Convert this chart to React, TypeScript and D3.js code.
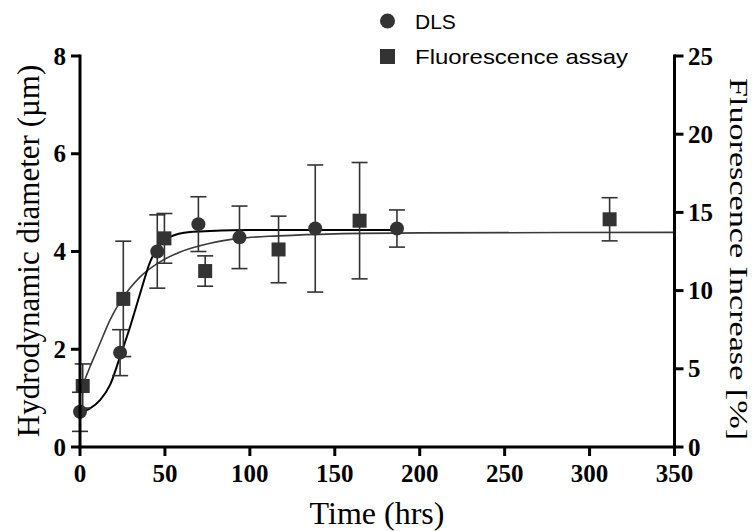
import React from "react";
import * as d3 from "d3";

// ---- data ----
const dlsTime = [0, 23.6, 45.5, 69.7, 93.9, 138.5, 186.6];
const dlsDiameter = [0.72, 1.93, 4.0, 4.56, 4.29, 4.47, 4.47];
const dlsError = [0.4, 0.47, 0.75, 0.56, 0.64, 1.3, 0.38];

const fluorTime = [1.6, 25.5, 49.7, 73.7, 116.9, 164.6, 311.8];
const fluorIncrease = [3.9, 9.47, 13.34, 11.25, 12.63, 14.47, 14.56];
const fluorError = [1.41, 3.69, 1.59, 0.97, 2.13, 3.72, 1.38];

// fitted curves
const dlsFitTime = [0, 5.9, 11.8, 17.7, 23.6, 29.5, 35.4, 41.3, 47.1, 53, 64.8, 76.6, 100, 140, 186.6];
const dlsFitValue = [0.7, 0.79, 0.96, 1.27, 1.85, 2.46, 3.14, 3.79, 4.13, 4.3, 4.4, 4.42, 4.44, 4.44, 4.44];
const fluorFitTime = [1.6, 5.9, 11.8, 17.7, 23.6, 29.5, 35.4, 47.1, 59, 76.6, 94, 117, 150, 200, 350];
const fluorFitValue = [3.97, 5.13, 6.63, 8.13, 9.28, 10.16, 10.88, 11.84, 12.47, 13.03, 13.34, 13.5, 13.63, 13.69, 13.72];

const xTicks = [0, 50, 100, 150, 200, 250, 300, 350];
const leftTicks = [0, 2, 4, 6, 8];
const rightTicks = [0, 5, 10, 15, 20, 25];

const legendLabels = ["DLS", "Fluorescence assay"];

const W = 756;
const H = 531;
const MARK = "#333333";

export default function App() {
  const x = d3.scaleLinear().domain([0, 350]).range([80, 674.5]);
  const yL = d3.scaleLinear().domain([0, 8]).range([447, 56]);
  const yR = d3.scaleLinear().domain([0, 25]).range([447, 56]);

  const dlsLine = d3
    .line<number>()
    .x((_, i) => x(dlsFitTime[i]))
    .y((d) => yL(d))
    .curve(d3.curveMonotoneX);
  const fluorLine = d3
    .line<number>()
    .x((_, i) => x(fluorFitTime[i]))
    .y((d) => yR(d))
    .curve(d3.curveMonotoneX);

  const serif = "'Liberation Serif', 'Times New Roman', serif";
  const sans = "'Liberation Sans', Arial, sans-serif";
  const cap = 8;

  return (
    <svg
      width={W}
      height={H}
      style={{ position: "absolute", left: 0, top: 0, background: "#fff" }}
    >
      <rect x={0} y={0} width={W} height={H} fill="#fff" />

      {/* fit curves */}
      <path d={fluorLine(fluorFitValue) || ""} fill="none" stroke="#3a3a3a" strokeWidth={1.6} />
      <path d={dlsLine(dlsFitValue) || ""} fill="none" stroke="#000" strokeWidth={2} />

      {/* error bars */}
      {dlsTime.map((t, i) => {
        const cx = x(t);
        const top = yL(dlsDiameter[i] + dlsError[i]);
        const bot = yL(dlsDiameter[i] - dlsError[i]);
        return (
          <g key={"de" + i} stroke={MARK} strokeWidth={1.6}>
            <line x1={cx} x2={cx} y1={top} y2={bot} />
            <line x1={cx - cap} x2={cx + cap} y1={top} y2={top} />
            <line x1={cx - cap} x2={cx + cap} y1={bot} y2={bot} />
          </g>
        );
      })}
      {fluorTime.map((t, i) => {
        const cx = x(t);
        const top = yR(fluorIncrease[i] + fluorError[i]);
        const bot = yR(fluorIncrease[i] - fluorError[i]);
        return (
          <g key={"fe" + i} stroke={MARK} strokeWidth={1.6}>
            <line x1={cx} x2={cx} y1={top} y2={bot} />
            <line x1={cx - cap} x2={cx + cap} y1={top} y2={top} />
            <line x1={cx - cap} x2={cx + cap} y1={bot} y2={bot} />
          </g>
        );
      })}

      {/* markers */}
      {fluorTime.map((t, i) => (
        <rect
          key={"fm" + i}
          x={x(t) - 7}
          y={yR(fluorIncrease[i]) - 7}
          width={14}
          height={14}
          fill={MARK}
        />
      ))}
      {dlsTime.map((t, i) => (
        <circle key={"dm" + i} cx={x(t)} cy={yL(dlsDiameter[i])} r={7} fill={MARK} />
      ))}

      {/* axes */}
      <g stroke="#000" strokeWidth={3} strokeLinecap="square">
        <line x1={80} x2={80} y1={yL(8)} y2={yL(0)} />
        <line x1={x(0)} x2={x(350)} y1={447} y2={447} />
        <line x1={x(350)} x2={x(350)} y1={yR(25)} y2={yR(0)} />
      </g>
      {xTicks.map((t) => (
        <g key={"xt" + t}>
          <line x1={x(t)} x2={x(t)} y1={447} y2={456} stroke="#000" strokeWidth={3} />
          <text
            x={x(t)}
            y={482}
            textAnchor="middle"
            fontFamily={serif}
            fontWeight="bold"
            fontSize={25}
          >
            {t}
          </text>
        </g>
      ))}
      {leftTicks.map((v) => (
        <g key={"lt" + v}>
          <line x1={71} x2={80} y1={yL(v)} y2={yL(v)} stroke="#000" strokeWidth={3} />
          <text
            x={66}
            y={yL(v) + 8.5}
            textAnchor="end"
            fontFamily={serif}
            fontWeight="bold"
            fontSize={25}
          >
            {v}
          </text>
        </g>
      ))}
      {rightTicks.map((v) => (
        <g key={"rt" + v}>
          <line x1={x(350)} x2={x(350) + 9} y1={yR(v)} y2={yR(v)} stroke="#000" strokeWidth={3} />
          <text
            x={688}
            y={yR(v) + 8.5}
            textAnchor="start"
            fontFamily={serif}
            fontWeight="bold"
            fontSize={25}
          >
            {v}
          </text>
        </g>
      ))}

      {/* axis titles */}
      <text x={377} y={524} textAnchor="middle" fontFamily={serif} fontSize={32}>
        Time (hrs)
      </text>
      <text
        transform={`translate(39, 251) rotate(-90)`}
        textAnchor="middle"
        fontFamily={serif}
        fontSize={31}
      >
        Hydrodynamic diameter (µm)
      </text>
      <text
        transform={`translate(730, 259) rotate(90)`}
        textAnchor="middle"
        fontFamily={serif}
        fontSize={26}
        textLength={362}
        lengthAdjust="spacingAndGlyphs"
      >
        Fluorescence Increase [%]
      </text>

      {/* legend */}
      <circle cx={387.5} cy={21} r={7.5} fill={MARK} />
      <text x={415} y={28.5} fontFamily={sans} fontSize={21}>
        {legendLabels[0]}
      </text>
      <rect x={380} y={49} width={15} height={15} fill={MARK} />
      <text
        x={415}
        y={63.5}
        fontFamily={sans}
        fontSize={21}
        textLength={213}
        lengthAdjust="spacingAndGlyphs"
      >
        {legendLabels[1]}
      </text>
    </svg>
  );
}
